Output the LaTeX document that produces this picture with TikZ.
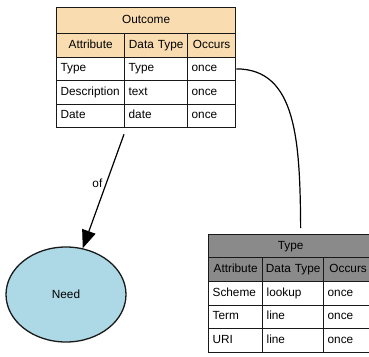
\documentclass[tikz,border=0pt]{standalone}
\usepackage{fontspec}
\setmainfont{Liberation Sans}
\usetikzlibrary{arrows.meta, positioning, shapes.geometric}

\definecolor{peach}{HTML}{F9DDB1}
\definecolor{darkgrey}{HTML}{8A8A8A}
\definecolor{needblue}{HTML}{ADD8E6}
\newcommand{\tabfont}{\fontsize{11.8}{14}\selectfont}

\begin{document}
\begin{tikzpicture}[
    x=1pt, y=-1pt,
    cell/.style={draw=black!90, line width=1.3pt, anchor=north west, inner xsep=4pt, inner ysep=0pt, minimum height=23.5pt, text height=8.6pt, text depth=2.6pt, align=left, font=\tabfont},
    headcell/.style={cell, inner xsep=1pt, align=center},
    arrow/.style={-{Triangle[length=18pt, width=14pt]}, line width=1.2pt},
    link/.style={line width=1.2pt}
]
\useasboundingbox (0,0) rectangle (369,356);

% Outcome table
\node[headcell, fill=peach, text width=177pt, minimum height=26pt] (o-title) at (56,7) {Outcome};
\node[headcell, fill=peach, text width=66pt] (o-h1) at (56,33) {Attribute};
\node[headcell, fill=peach, text width=61pt] (o-h2) at (124,33) {Data Type};
\node[headcell, fill=peach, text width=46pt] (o-h3) at (187,33) {Occurs};
\node[cell, text width=60pt] (o-r1-attr) at (56,56.5) {Type};
\node[cell, text width=55pt] (o-r1-type) at (124,56.5) {Type};
\node[cell, text width=40pt] (o-r1-occ) at (187,56.5) {once};
\node[cell, text width=60pt] (o-r2-attr) at (56,80) {Description};
\node[cell, text width=55pt] (o-r2-type) at (124,80) {text};
\node[cell, text width=40pt] (o-r2-occ) at (187,80) {once};
\node[cell, text width=60pt] (o-r3-attr) at (56,103.5) {Date};
\node[cell, text width=55pt] (o-r3-type) at (124,103.5) {date};
\node[cell, text width=40pt] (o-r3-occ) at (187,103.5) {once};

% Type table
\node[headcell, fill=darkgrey, text width=162pt, minimum height=23pt] (t-title) at (208,234) {Type};
\node[headcell, fill=darkgrey, text width=52pt] (t-h1) at (208,257) {Attribute};
\node[headcell, fill=darkgrey, text width=59pt] (t-h2) at (262,257) {Data Type};
\node[headcell, fill=darkgrey, text width=47pt] (t-h3) at (323,257) {Occurs};
\node[cell, text width=46pt] (t-r1-attr) at (208,281) {Scheme};
\node[cell, text width=53pt] (t-r1-type) at (262,281) {lookup};
\node[cell, text width=41pt] (t-r1-occ) at (323,281) {once};
\node[cell, text width=46pt] (t-r2-attr) at (208,304.5) {Term};
\node[cell, text width=53pt] (t-r2-type) at (262,304.5) {line};
\node[cell, text width=41pt] (t-r2-occ) at (323,304.5) {once};
\node[cell, text width=46pt] (t-r3-attr) at (208,328) {URI};
\node[cell, text width=53pt] (t-r3-type) at (262,328) {line};
\node[cell, text width=41pt] (t-r3-occ) at (323,328) {once};

% Need
\node[ellipse, draw=black!90, line width=1.3pt, fill=needblue, minimum width=120pt, minimum height=95pt, font=\tabfont] (need) at (66,294.5) {Need};

% Connectors
\coordinate (of-start) at ([yshift=-6pt]o-r3-type.south west);
\coordinate (type-in) at ([xshift=10pt, yshift=6pt]t-title.north);
\draw[arrow] (of-start) -- node[pos=0.43, left=0pt, font=\tabfont] {of} (need);
\draw[link] (o-r1-occ.east) .. controls +(60,0) and (300,140) .. (type-in);

\end{tikzpicture}
\end{document}
